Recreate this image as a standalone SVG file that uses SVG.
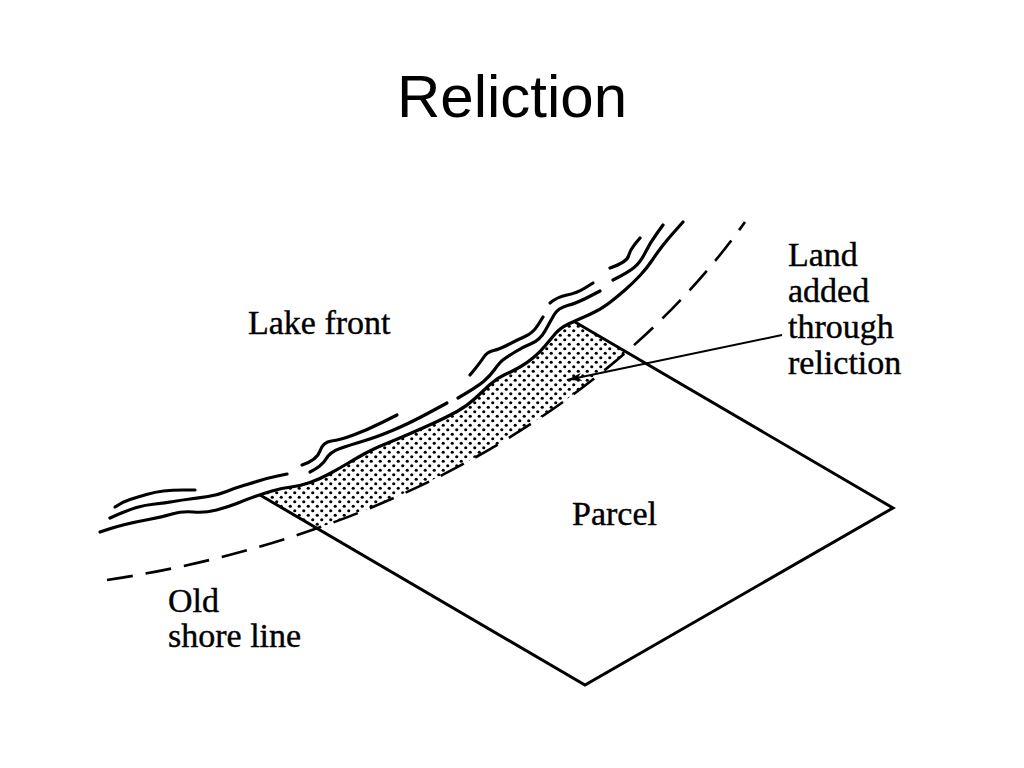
<svg xmlns="http://www.w3.org/2000/svg" width="1024" height="768" viewBox="0 0 1024 768">
<defs>
<style>
.title{font-family:"Liberation Sans",Arial,sans-serif;font-size:60px;fill:#000}
.lbl{font-family:"Liberation Serif","Times New Roman",serif;font-size:34px;fill:#000;stroke:#000;stroke-width:0.4}
.shore{fill:none;stroke:#000;stroke-width:3.2;stroke-linejoin:round;stroke-linecap:round}
.parcel{fill:none;stroke:#000;stroke-width:3;stroke-linejoin:miter}
.old{fill:none;stroke:#000;stroke-width:2.6;stroke-dasharray:26 13}
.lead{fill:none;stroke:#000;stroke-width:2}
</style>
<pattern id="dots" width="9" height="9" patternUnits="userSpaceOnUse">
<circle cx="2.25" cy="2.25" r="1.6" fill="#000"/>
<circle cx="6.75" cy="6.75" r="1.6" fill="#000"/>
</pattern>
<clipPath id="parcelClip">
<polygon points="100,402 585,685 893,508 233,122 100,122"/>
</clipPath>
<marker id="arrow" markerWidth="16" markerHeight="10" refX="15" refY="5" orient="auto" markerUnits="userSpaceOnUse">
<path d="M0,1 L15,5 L0,9 L4,5 Z" fill="#000"/>
</marker>
</defs>
<rect width="1024" height="768" fill="#fff"/>
<text class="title" x="512" y="117" text-anchor="middle">Reliction</text>

<g id="stipple">
<path clip-path="url(#parcelClip)" fill="url(#dots)" d="M100,532 L107.5,529.5 Q115,527 125,524.5 Q135,522 148.5,519.5 Q162,517 172,514 Q182,511 193.5,512 Q205,513 216.5,510 Q228,507 238,503 Q248,499 255,496.5 Q262,494 272,491 Q282,488 291,487 Q300,486 310,482.5 Q320,479 330,473.5 Q340,468 347.5,463.5 Q355,459 364,454 Q373,449 386.5,443.5 Q400,438 411.5,433 Q423,428 435,422.5 Q447,417 457,411.5 Q467,406 475,398.5 Q483,391 490,384.5 Q497,378 505,374.5 Q513,371 520,367 Q527,363 533.5,357.5 Q540,352 545,346 Q550,340 555,334 Q560,328 568.5,324 Q577,320 588.5,315 Q600,310 608.5,303.5 Q617,297 625,290 Q633,283 640,275.5 Q647,268 652,260.5 Q657,253 662,246.5 Q667,240 675,231 L683,222 L760,200 L745,222 C615,404 387,538 107,580 Z"/>
</g>

<g id="parcel">
<polyline class="parcel" points="260,495 585,685 893,508 575,322"/>
<text class="lbl" x="572" y="525">Parcel</text>
</g>

<g id="old-shore-line">
<path class="old" d="M107,580 C387,538 615,404 745,222"/>
<text class="lbl" x="168" y="612">Old</text>
<text class="lbl" x="168" y="647">shore line</text>
</g>

<g id="lake-front">
<path class="shore" d="M100,532 L107.5,529.5 Q115,527 125,524.5 Q135,522 148.5,519.5 Q162,517 172,514 Q182,511 193.5,512 Q205,513 216.5,510 Q228,507 238,503 Q248,499 255,496.5 Q262,494 272,491 Q282,488 291,487 Q300,486 310,482.5 Q320,479 330,473.5 Q340,468 347.5,463.5 Q355,459 364,454 Q373,449 386.5,443.5 Q400,438 411.5,433 Q423,428 435,422.5 Q447,417 457,411.5 Q467,406 475,398.5 Q483,391 490,384.5 Q497,378 505,374.5 Q513,371 520,367 Q527,363 533.5,357.5 Q540,352 545,346 Q550,340 555,334 Q560,328 568.5,324 Q577,320 588.5,315 Q600,310 608.5,303.5 Q617,297 625,290 Q633,283 640,275.5 Q647,268 652,260.5 Q657,253 662,246.5 Q667,240 675,231 L683,222"/>
<path class="shore" d="M110,518 Q128,510 136.5,507.5 Q145,505 155,504 Q165,503 173.5,501.5 Q182,500 190,499 Q198,498 208,496.5 Q218,495 226.5,491.5 Q235,488 243.5,485.5 Q252,483 260,480.5 Q268,478 277.5,476 L287,474"/>
<path class="shore" d="M310,472 Q322,466 326,459 Q330,452 340,448.5 Q350,445 363.5,441 Q377,437 393.5,430 Q410,423 428.5,413 L447,403"/>
<path class="shore" d="M458,398 Q477,387 483.5,381.5 Q490,376 495,369 Q500,362 503.5,359.5 Q507,357 515,352 Q523,347 531.5,343.5 Q540,340 545,331 Q550,322 554,315 Q558,308 567.5,305.5 Q577,303 588.5,297 L600,291"/>
<path class="shore" d="M613,280 Q627,273 633.5,268 Q640,263 645,253 Q650,243 656.5,234 L663,225"/>
<path class="shore" d="M115,507 Q122,502 130,499.5 Q138,497 146.5,494.5 Q155,492 163.5,491 Q172,490 183.5,490 L195,490"/>
<path class="shore" d="M302,465 Q317,460 320,451 Q323,442 331.5,441 Q340,440 353.5,435 Q367,430 382,422.5 L397,415"/>
<path class="shore" d="M470,375 Q480,363 483.5,357.5 Q487,352 493.5,350.5 Q500,349 508.5,344.5 Q517,340 525,336.5 Q533,333 538,325 L543,317"/>
<path class="shore" d="M550,303 Q557,297 567,295 Q577,293 585,288 L593,283"/>
<path class="shore" d="M610,268 Q627,262 628.5,256 Q630,250 635,244 L640,238"/>
<text class="lbl" x="248" y="334">Lake front</text>
</g>

<g id="connectors">
<line class="lead" x1="782" y1="335" x2="567" y2="380" marker-end="url(#arrow)"/>
</g>

<g id="land-added">
<text class="lbl" x="788" y="266">Land</text>
<text class="lbl" x="788" y="302">added</text>
<text class="lbl" x="788" y="338">through</text>
<text class="lbl" x="788" y="374">reliction</text>
</g>
</svg>
